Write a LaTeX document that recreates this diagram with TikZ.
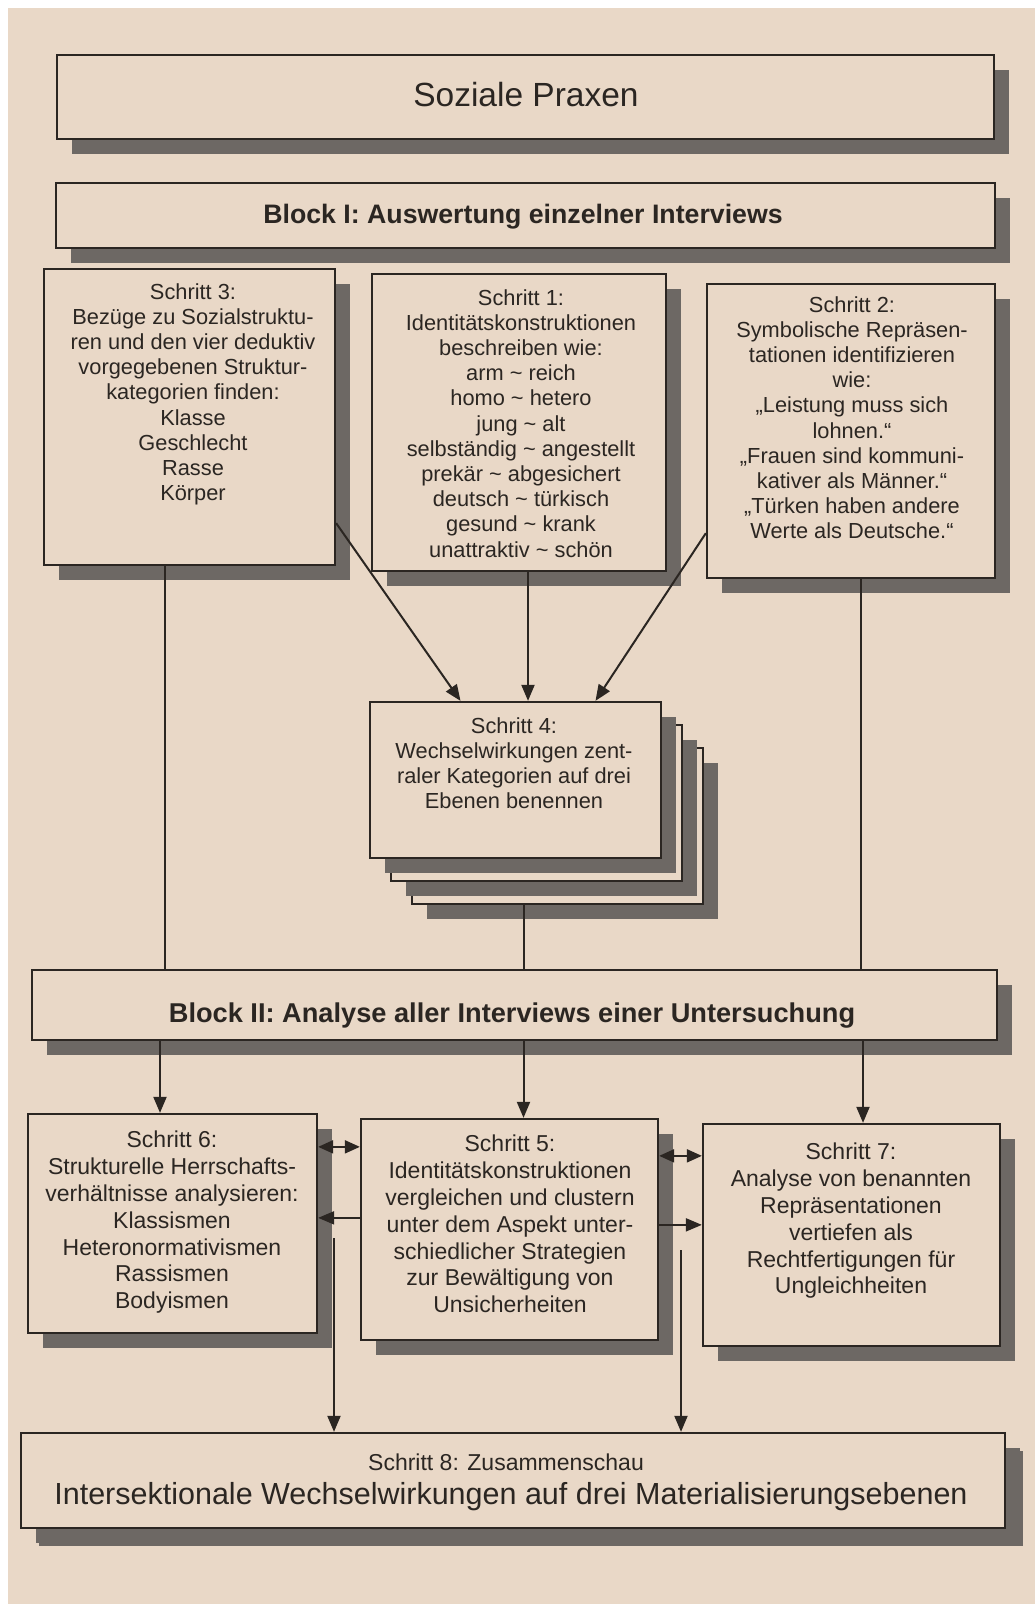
\documentclass[tikz,border=0pt]{standalone}
\usepackage{fontspec}
\setmainfont{Liberation Sans}
\usetikzlibrary{shadows,arrows.meta,calc}
\definecolor{page}{HTML}{E9D8C7}
\definecolor{shade}{HTML}{6D6864}
\definecolor{ink}{HTML}{2B2622}
\tikzset{
  box/.style={draw=ink, line width=2.3pt, fill=page, inner sep=0pt,
    drop shadow={shadow xshift=15pt, shadow yshift=-15pt, fill=shade, opacity=1}},
  bigshadow/.style={drop shadow={shadow xshift=18pt, shadow yshift=-18pt, fill=shade, opacity=1}},
  txt/.style={text=ink, align=center, inner sep=0pt, anchor=north, font=\fontsize{21.8}{25.2}\selectfont},
  txtb/.style={text=ink, align=center, inner sep=0pt, anchor=north, font=\fontsize{23}{26.8}\selectfont},
  conn/.style={draw=ink, line width=2pt},
  arr/.style={conn, -{Triangle[length=16pt,width=13pt]}},
  darr/.style={conn, {Triangle[length=15pt,width=13pt]}-{Triangle[length=15pt,width=13pt]}},
}
\begin{document}
\begin{tikzpicture}[x=1pt,y=-1pt]
\useasboundingbox (0,0) rectangle (1035,1604);
\fill[white] (0,0) rectangle (1035,1604);
\fill[page] (8,8) rectangle (1035,1604);

% boxes
\node[box, minimum width=937pt, minimum height=84pt] (praxen) at (525.5,97) {};
\node[box, minimum width=939pt, minimum height=65pt] (block1) at (525.5,215.5) {};
\node[box, minimum width=291pt, minimum height=296pt] (s3) at (189.5,417) {};
\node[box, minimum width=294pt, minimum height=297pt] (s1) at (519,422.5) {};
\node[box, minimum width=288pt, minimum height=294pt] (s2) at (851,431) {};
\node[box, minimum width=291pt, minimum height=156pt] (s4c) at (557.5,826) {};
\node[box, minimum width=291pt, minimum height=156pt] (s4b) at (536.5,803) {};
\node[box, minimum width=291pt, minimum height=156pt] (s4) at (515.5,780) {};
\node[box, minimum width=965pt, minimum height=70pt] (block2) at (514.5,1005) {};
\node[box, minimum width=289pt, minimum height=219pt] (s6) at (172.5,1223.5) {};
\node[box, minimum width=297pt, minimum height=221pt] (s5) at (509.5,1229.5) {};
\node[box, minimum width=297pt, minimum height=222pt] (s7) at (851.5,1235) {};
\node[box, bigshadow, minimum width=984pt, minimum height=95pt] (s8) at (513,1480.5) {};

% texts
\node[text=ink, inner sep=0pt, font=\fontsize{33.5}{38}\selectfont] (tpraxen) at (526,95) {Soziale Praxen};
\node[text=ink, inner sep=0pt, font=\fontsize{26.7}{30}\selectfont\bfseries] (tblock1) at (523,217) {Block I: Auswertung einzelner Interviews};
\node[txt] (t3) at (193,283) {Schritt 3:\\Bezüge zu Sozialstruktu-\\ren und den vier deduktiv\\vorgegebenen Struktur-\\kategorien finden:\\Klasse\\Geschlecht\\Rasse\\Körper};
\node[txt] (t1) at (521,289) {Schritt 1:\\Identitätskonstruktionen\\beschreiben wie:\\arm \textasciitilde{} reich\\homo \textasciitilde{} hetero\\jung \textasciitilde{} alt\\selbständig \textasciitilde{} angestellt\\prekär \textasciitilde{} abgesichert\\deutsch \textasciitilde{} türkisch\\gesund \textasciitilde{} krank\\unattraktiv \textasciitilde{} schön};
\node[txt] (t2) at (852,296) {Schritt 2:\\Symbolische Repräsen-\\tationen identifizieren\\wie:\\„Leistung muss sich\\lohnen.“\\„Frauen sind kommuni-\\kativer als Männer.“\\„Türken haben andere\\Werte als Deutsche.“};
\node[txt] (t4) at (514,717) {Schritt 4:\\Wechselwirkungen zent-\\raler Kategorien auf drei\\Ebenen benennen};
\node[text=ink, inner sep=0pt, font=\fontsize{27.2}{30}\selectfont\bfseries] (tblock2) at (512,1016) {Block II: Analyse aller Interviews einer Untersuchung};
\node[txtb] (t6) at (172,1131) {Schritt 6:\\Strukturelle Herrschafts-\\verhältnisse analysieren:\\Klassismen\\Heteronormativismen\\Rassismen\\Bodyismen};
\node[txtb] (t5) at (510,1135) {Schritt 5:\\Identitätskonstruktionen\\vergleichen und clustern\\unter dem Aspekt unter-\\schiedlicher Strategien\\zur Bewältigung von\\Unsicherheiten};
\node[txtb] (t7) at (851,1143) {Schritt 7:\\Analyse von benannten\\Repräsentationen\\vertiefen als\\Rechtfertigungen für\\Ungleichheiten};
\node[text=ink, inner sep=0pt, font=\fontsize{23}{26}\selectfont] (t8a) at (506,1462) {Schritt 8: Zusammenschau};
\node[text=ink, inner sep=0pt, font=\fontsize{30.5}{34}\selectfont] (t8b) at (511,1497) {Intersektionale Wechselwirkungen auf drei Materialisierungsebenen};

% connectors block I
\draw[arr] ([yshift=43pt]s3.south east) -- ([xshift=-55pt]s4.north);
\draw[arr] ([xshift=9pt]s1.south) -- ([xshift=9pt]s1.south |- s4.north);
\draw[arr] ([yshift=46pt]s2.south west) -- ([xshift=80pt]s4.north);
\draw[conn] ([xshift=-25pt]s3.south) -- ([xshift=-25pt]s3.south |- block2.north);
\draw[conn] ([xshift=10pt]s2.south) -- ([xshift=10pt]s2.south |- block2.north);
\draw[conn] ([xshift=-33.5pt]s4c.south) -- ([xshift=-33.5pt]s4c.south |- block2.north);

% connectors block II
\draw[arr] ([xshift=-12.5pt]s6.north |- block2.south) -- ([xshift=-12.5pt]s6.north);
\draw[arr] ([xshift=14pt]s5.north |- block2.south) -- ([xshift=14pt]s5.north);
\draw[arr] ([xshift=11.5pt]s7.north |- block2.south) -- ([xshift=11.5pt]s7.north);
\draw[darr] ([yshift=-29pt]s5.north west) -- ([yshift=-29pt]s5.north west -| s6.east);
\draw[arr] ([yshift=-100pt]s5.north west) -- ([yshift=-100pt]s5.north west -| s6.east);
\draw[darr] ([yshift=-38pt]s5.north east) -- ([yshift=-38pt]s5.north east -| s7.west);
\draw[arr] ([yshift=-107pt]s5.north east) -- ([yshift=-107pt]s5.north east -| s7.west);
\coordinate (v1) at (334,1238);
\coordinate (v2) at (681,1250);
\draw[arr] (v1) -- (v1 |- s8.north);
\draw[arr] (v2) -- (v2 |- s8.north);
\end{tikzpicture}
\end{document}
